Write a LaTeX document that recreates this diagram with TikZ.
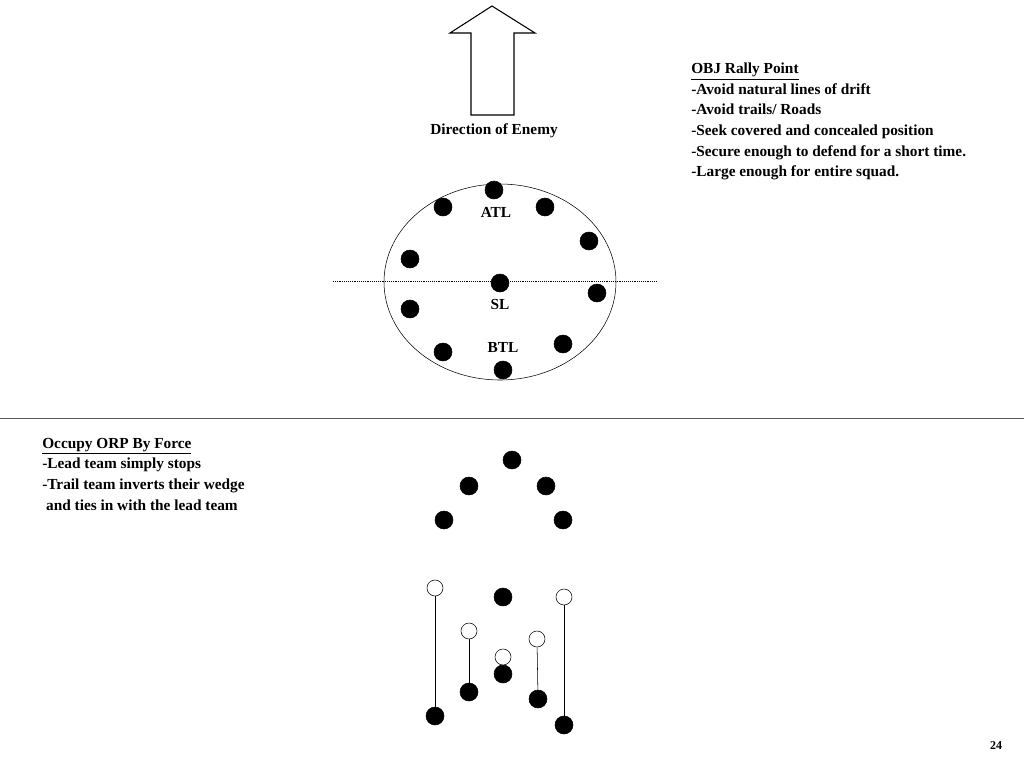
\documentclass[tikz,border=0pt]{standalone}
\usepackage{fontspec}
\setmainfont{Liberation Serif}
\begin{document}
\begin{tikzpicture}[x=0.75pt,y=-0.75pt,
  fd/.style={circle,fill=black,draw=black,minimum size=13.5pt,inner sep=0pt},
  od/.style={circle,fill=white,draw=black,minimum size=12pt,inner sep=0pt},
  lbl/.style={font=\fontsize{11.5}{14}\selectfont\bfseries},
  blk/.style={font=\fontsize{11.5}{15.4}\selectfont\bfseries,align=left,anchor=north west,inner sep=0pt}]
\useasboundingbox (0,0) rectangle (1024,768);
\draw[thick] (492,6) -- (535,33) -- (514,33) -- (514,115) -- (471,115) -- (471,33) -- (450,33) -- cycle;
\node[lbl] (dir) at (494,131) {Direction of Enemy};
\draw (500,282) ellipse [x radius=116, y radius=98];
\draw[densely dotted] (333,281) -- (657,281);
\foreach \n/\x/\y in {a/494/190,b/443/207,c/545/207,d/589/241,e/410/259,f/500/283,g/597/293,h/410/309,i/563/344,j/443/352,k/503/370}
  \node[fd] (\n) at (\x,\y) {};
\node[lbl] (atl) at (496,212) {ATL};
\node[lbl] (sl) at (500,304) {SL};
\node[lbl] (btl) at (503,347) {BTL};
\draw[gray!70!black] (0,418) -- (1024,418);
\node[blk] (t1) at (691,63) {\underline{OBJ Rally Point}\\-Avoid natural lines of drift\\-Avoid trails/ Roads\\-Seek covered and concealed position\\-Secure enough to defend for a short time.\\-Large enough for entire squad.};
\node[blk] (t2) at (42,438) {\underline{Occupy ORP By Force}\\-Lead team simply stops\\-Trail team inverts their wedge\\\ and ties in with the lead team};
\foreach \n/\x/\y in {p1/512/460,p2/469/486,p3/546/486,p4/444/520,p5/563/520,p6/503/597,q1/469/692,q2/503/674,q3/538/699,q4/435/716,q5/564/725}
  \node[fd] (\n) at (\x,\y) {};
\foreach \n/\x/\y in {o1/469/631,o2/503/657,o3/537/639,o4/435/588,o5/564/597}
  \node[od] (\n) at (\x,\y) {};
\foreach \i in {1,3,4,5} \draw (o\i) -- (q\i);
\node[font=\fontsize{9}{11}\selectfont\bfseries] (pg) at (996,746) {24};
\end{tikzpicture}
\end{document}
